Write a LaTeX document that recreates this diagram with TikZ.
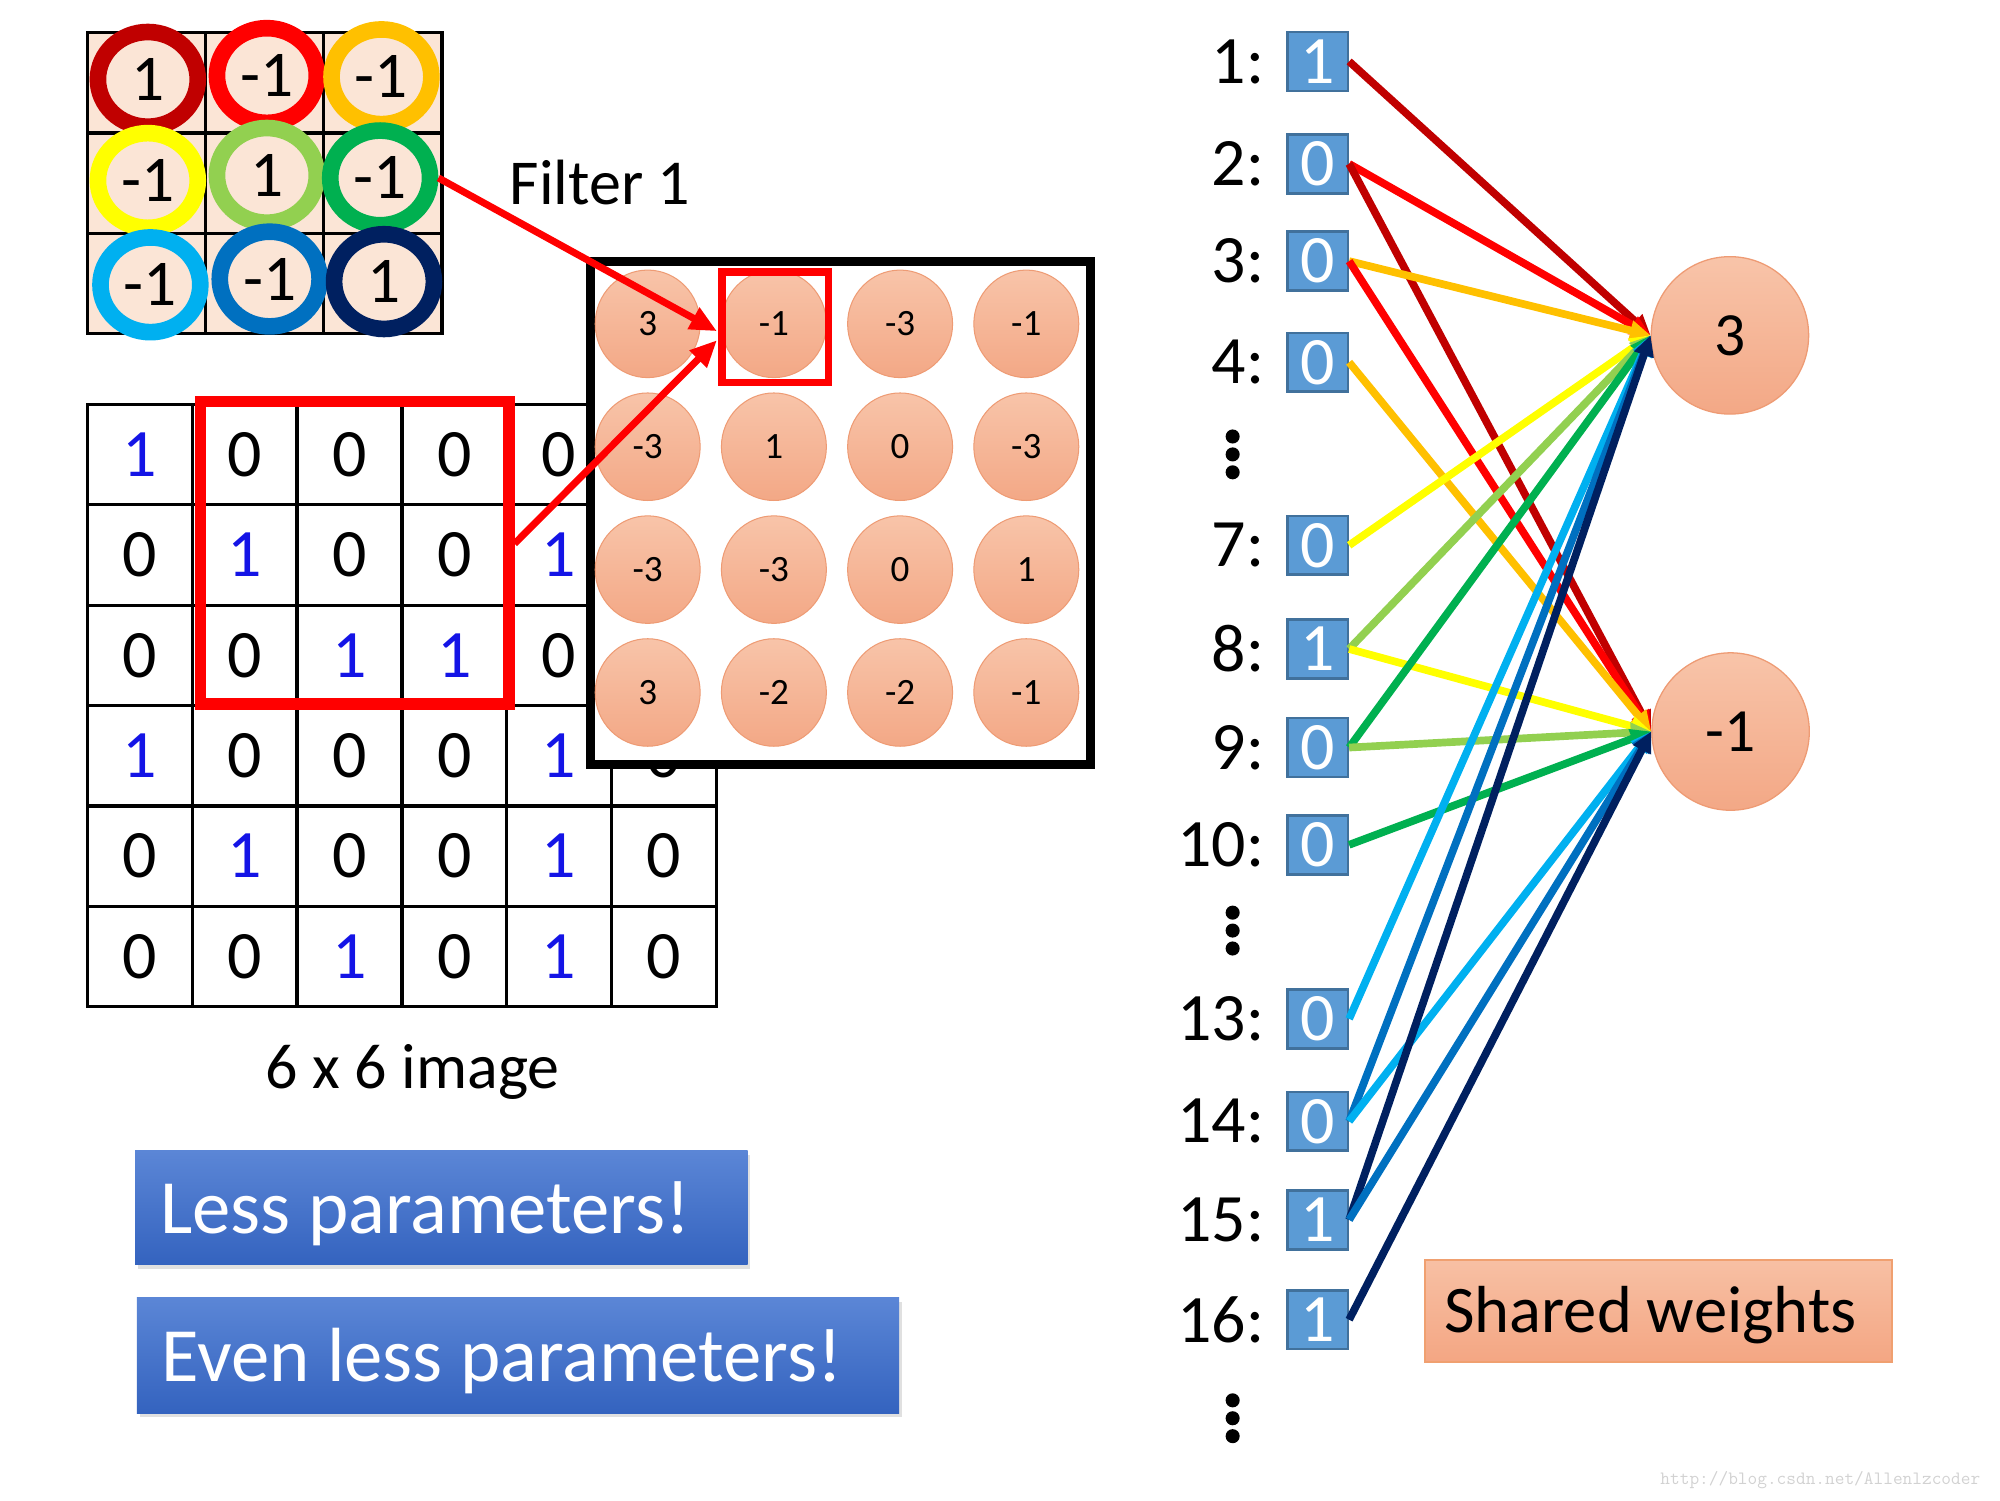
\documentclass[tikz,border=0pt]{standalone}
\usepackage{fontspec}
\setmainfont{Carlito}
\usetikzlibrary{arrows.meta,shapes.geometric,calc}
\definecolor{cDR}{HTML}{C00000}
\definecolor{cR}{HTML}{FF0000}
\definecolor{cO}{HTML}{FFC000}
\definecolor{cY}{HTML}{FFFF00}
\definecolor{cLG}{HTML}{92D050}
\definecolor{cG}{HTML}{00B050}
\definecolor{cLB}{HTML}{00B0F0}
\definecolor{cB}{HTML}{0070C0}
\definecolor{cDB}{HTML}{002060}
\definecolor{cellfill}{HTML}{FBE5D6}
\definecolor{gblue}{HTML}{1414E6}
\definecolor{salTop}{HTML}{F8C4A9}
\definecolor{salBot}{HTML}{F3A886}
\definecolor{salLine}{HTML}{EE9B74}
\definecolor{bxTop}{HTML}{5B86D6}
\definecolor{bxBot}{HTML}{3463BF}
\definecolor{sqFill}{HTML}{5B9BD5}
\definecolor{sqLine}{HTML}{41719C}
\definecolor{swTop}{HTML}{F7C0A4}
\definecolor{swBot}{HTML}{F4A683}
\definecolor{swLine}{HTML}{F0A070}
\newcommand\bone{\textcolor{gblue}{1}}
\newcommand\fsz[1]{\fontsize{#1}{#1}\selectfont}
\begin{document}
\begin{tikzpicture}[x=1pt,y=-1pt,
  gl/.style={line width=2.5pt,line cap=rect},
  wring/.style={ellipse,draw=#1,line width=13pt,fill=cellfill,minimum width=78pt,minimum height=74pt,inner sep=0pt,font=\fsz{51}},
  gd/.style={inner sep=0pt,font=\fsz{53}},
  fmc/.style={ellipse,draw=salLine,line width=0.8pt,top color=salTop,bottom color=salBot,minimum width=82pt,minimum height=84pt,inner sep=0pt,font=\fsz{29}},
  rarr/.style={draw=cR,line width=5.5pt,-{Triangle[length=21pt,width=18pt]}},
  conn/.style={line width=6pt,-{Triangle[length=16pt,width=15pt]}},
  bbox/.style={rectangle,top color=bxTop,bottom color=bxBot,inner sep=0pt},
  btxt/.style={anchor=base west,inner sep=0pt,text=white,font=\fsz{60}},
  lbl/.style={anchor=east,inner sep=0pt,font=\fsz{53}},
  sq/.style={rectangle,fill=sqFill,draw=sqLine,line width=2pt,minimum width=47pt,minimum height=46pt,inner sep=0pt,text=white,font=\fsz{53}},
  neu/.style={circle,minimum size=123pt,top color=salTop,bottom color=salBot,draw=salLine,line width=1pt,inner sep=0pt,font=\fsz{48}},
  swbox/.style={rectangle,top color=swTop,bottom color=swBot,draw=swLine,line width=1.5pt,minimum width=365pt,minimum height=80pt,inner sep=0pt}
]
\useasboundingbox (0,0) rectangle (1562.5,1171.875);

% ---------- 6x6 image ----------
\foreach \i in {0,...,6} {
  \draw[gl] ({68.3+81.9*\i},316) -- ({68.3+81.9*\i},786.4);
  \draw[gl] (68.3,{316+78.4*\i}) -- (559.7,{316+78.4*\i});
}
\foreach \rowv [count=\r] in {{\bone,0,0,0,0},{0,\bone,0,0,\bone},{0,0,\bone,\bone,0},{\bone,0,0,0,\bone,0},{0,\bone,0,0,\bone,0},{0,0,\bone,0,\bone,0}} {
  \foreach \v [count=\c] in \rowv {
    \node[gd] (g\r\c) at ({68.3+81.9*(\c-0.5)},{316+78.4*(\r-0.5)}) {\v};
  }
}
\node[draw=cR,line width=9pt,minimum width=241pt,minimum height=236.5pt,inner sep=0pt] (rb) at (277,431.75) {};
\node[anchor=base,font=\fsz{50},inner sep=0pt] (cap) at (322.5,850) {6 x 6 image};

% ---------- filter ----------
\fill[cellfill] (68.3,25.5) rectangle (345.3,260.5);
\foreach \i in {0,...,3} {
  \draw[gl] ({68.3+92.33*\i},25.5) -- ({68.3+92.33*\i},260.5);
  \draw[gl] (68.3,{25.5+78.33*\i}) -- (345.3,{25.5+78.33*\i});
}
\node[wring=cDR] (w11) at (115.5,62) {1};
\node[wring=cR]  (w12) at (208.5,59) {-1};
\node[wring=cO]  (w13) at (298,60) {-1};
\node[wring=cY]  (w21) at (115.5,141) {-1};
\node[wring=cLG] (w22) at (208.5,137) {1};
\node[wring=cG]  (w23) at (297,139) {-1};
\node[wring=cLB] (w31) at (117.5,222.5) {-1};
\node[wring=cB]  (w32) at (210.7,218) {-1};
\node[wring=cDB] (w33) at (300,220) {1};
\node[anchor=base west,font=\fsz{50},inner sep=0pt] (ft) at (398,160) {Filter 1};

% ---------- feature map ----------
\fill[black,opacity=0.15] (464,207) rectangle (855,600);
\node[draw=black,line width=7pt,fill=white,minimum width=391pt,minimum height=393pt,inner sep=0pt] (fm) at (656.5,401) {};
\foreach \rowv [count=\r] in {{3,-1,-3,-1},{-3,1,0,-3},{-3,-3,0,1},{3,-2,-2,-1}} {
  \foreach \v [count=\c] in \rowv {
    \node[fmc] (f\r\c) at ({506+98.6*(\c-1)},{253+96*(\r-1)}) {\v};
  }
}
\node[draw=cR,line width=5.7pt,minimum width=83pt,minimum height=86.5pt,inner sep=0pt] (sb) at (605.5,255.75) {};
\draw[rarr] (w23.east) -- ($(sb.west)+(-1,3)$);
\draw[rarr] ($(rb.east)+(0,-7)$) -- ($(sb.west)+(-1,10)$);

% ---------- blue boxes ----------
\fill[black,opacity=0.12] (107.5,902) rectangle (586,991);
\node[bbox,minimum width=478.5pt,minimum height=89pt] (b1) at (344.75,943.5) {};
\node[btxt] (b1t) at (125,963.5) {Less parameters!};
\fill[black,opacity=0.12] (109,1017) rectangle (704.5,1107);
\node[bbox,minimum width=595.5pt,minimum height=90pt] (b2) at (404.75,1059) {};
\node[btxt] (b2t) at (126,1079.4) {Even less parameters!};

% ---------- inputs ----------
\foreach \lab/\val/\yy in {1/1/48,2/0/128,3/0/204,4/0/283,7/0/426,8/1/507,9/0/584,10/0/660,13/0/796,14/0/876,15/1/953,16/1/1031} {
  \node[lbl] (l\lab) at (988,\yy) {\lab:};
  \node[sq] (s\lab) at (1029.5,\yy) {\val};
}
\foreach \yy in {341,355,369,713,727,741,1094,1108,1122}
  \fill (963,\yy) circle[radius=5.5pt];

% ---------- neurons ----------
\node[neu] (n3) at (1351.5,262) {3};
\node[neu] (nm) at (1352,571.5) {-1};

% ---------- connections ----------
\draw[conn,cDR] (s1.east) -- (n3.west);
\draw[conn,cR]  (s2.east) -- (n3.west);
\draw[conn,cDR] (s2.east) -- (nm.west);
\draw[conn,cO]  (s3.east) -- (n3.west);
\draw[conn,cR]  (s3.east) -- (nm.west);
\draw[conn,cO]  (s4.east) -- (nm.west);
\draw[conn,cY]  (s7.east) -- (n3.west);
\draw[conn,cLG] (s8.east) -- (n3.west);
\draw[conn,cY]  (s8.east) -- (nm.west);
\draw[conn,cG]  (s9.east) -- (n3.west);
\draw[conn,cLG] (s9.east) -- (nm.west);
\draw[conn,cG]  (s10.east) -- (nm.west);
\draw[conn,cLB] (s13.east) -- (n3.west);
\draw[conn,cB]  (s14.east) -- (n3.west);
\draw[conn,cLB] (s14.east) -- (nm.west);
\draw[conn,cDB] (s15.east) -- (n3.west);
\draw[conn,cB]  (s15.east) -- (nm.west);
\draw[conn,cDB] (s16.east) -- (nm.west);

% ---------- shared weights ----------
\node[swbox] (sw) at (1295.5,1024) {};
\node[anchor=base west,inner sep=0pt,font=\fsz{52}] (swt) at (1128,1041.2) {Shared weights};
\node[anchor=base west,inner sep=0pt,font=\ttfamily\fsz{14.7},text=gray!35] (wm) at (1297,1160) {http://blog.csdn.net/Allenlzcoder};
\end{tikzpicture}
\end{document}
